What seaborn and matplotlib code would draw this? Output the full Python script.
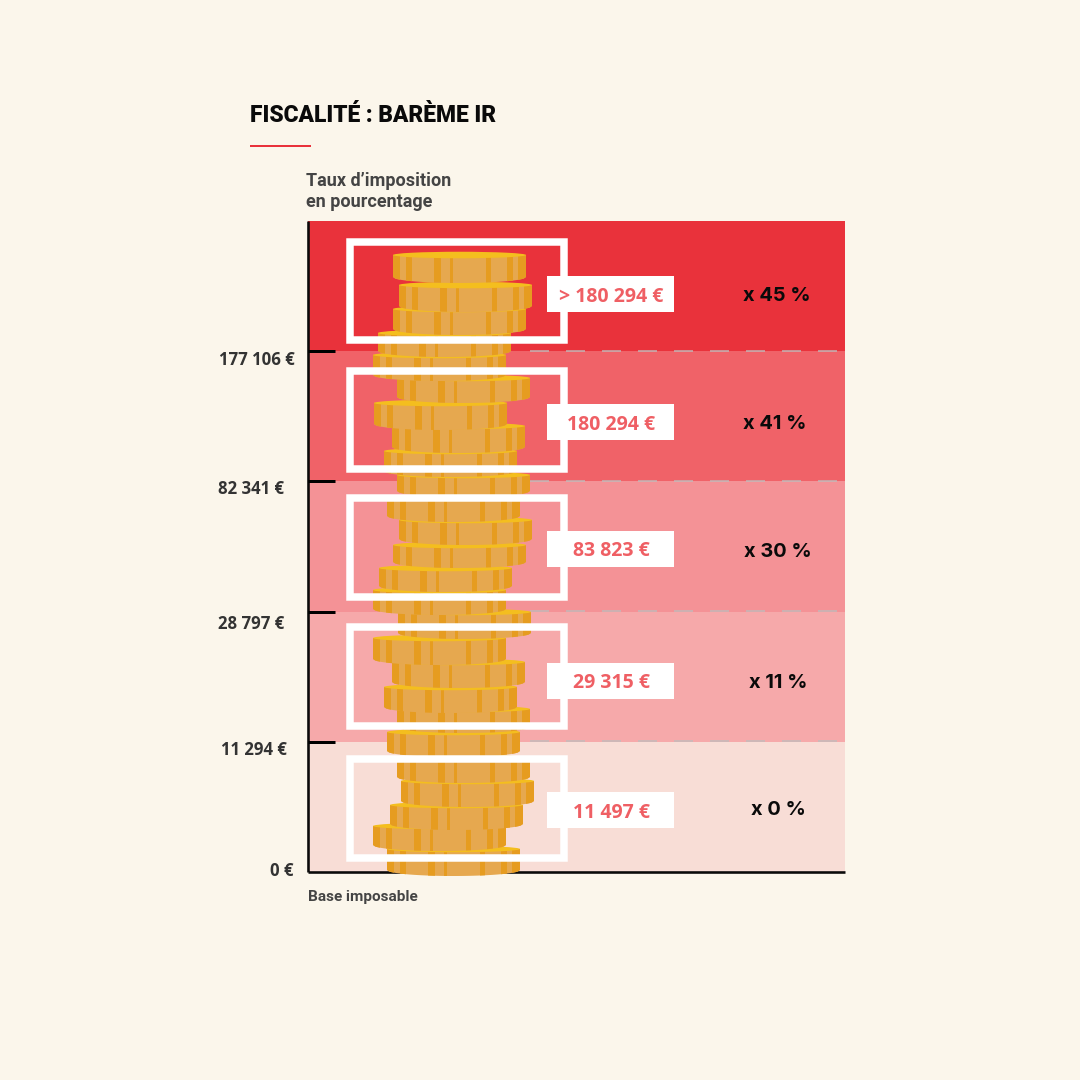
import numpy as np
import pandas as pd
import matplotlib
matplotlib.use("Agg")
import matplotlib.pyplot as plt
from matplotlib.patches import Rectangle, Ellipse, Polygon
import seaborn as sns

# ---------- data ----------
title = "FISCALITÉ : BARÈME IR"
y_title = "Taux d’imposition\nen pourcentage"
x_title = "Base imposable"
bands = ["0 %", "11 %", "30 %", "41 %", "45 %"]            # bottom to top
band_position = [0.5, 1.5, 2.5, 3.5, 4.5]
band_extent = [1, 1, 1, 1, 1]
band_colours = ["#F8DDD6", "#F6A9AA", "#F49296", "#F06268", "#E9323B"]
thresholds = ["0 €", "11 294 €", "28 797 €", "82 341 €", "177 106 €"]
ceilings = ["11 497 €", "29 315 €", "83 823 €", "180 294 €", "> 180 294 €"]
rates = ["x 0 %", "x 11 %", "x 30 %", "x 41 %", "x 45 %"]

# coin stack decoration (picture pixels, top coin first)
coin_left = [393, 399, 393, 378, 373, 397, 374, 392, 384, 397, 387, 399, 393,
             379, 373, 398, 373, 392, 384, 397, 387, 397, 401, 390, 373, 387]
coin_top = [252, 282, 306, 330, 352, 375, 400, 423, 448, 472, 495, 517, 542,
            565, 587, 609, 635, 659, 684, 706, 729, 755, 778, 802, 823, 846]
coin_bottom = [283, 312, 335, 357, 381, 403, 430, 453, 477, 497, 522, 545, 568,
               592, 615, 639, 665, 688, 713, 733, 757, 783, 807, 830, 851, 876]

BG = "#FBF6EB"
PX = 72 / 100  # points per pixel

sns.set_theme(style="white", rc={"figure.facecolor": BG, "savefig.facecolor": BG})
fig = plt.figure(figsize=(10.8, 10.8), dpi=100, facecolor=BG)

# ---------- bands ----------
ax = fig.add_axes([308 / 1080, (1080 - 872) / 1080, 537 / 1080, 651 / 1080])
df = pd.DataFrame({"extent": band_extent, "pos": band_position, "band": bands})
sns.barplot(data=df, x="extent", y="pos", hue="band", palette=dict(zip(bands, band_colours)),
            orient="h", native_scale=True, width=1, gap=0, dodge=False, legend=False,
            linewidth=0, saturation=1, ax=ax)
ax.set_xlim(0, 1)
ax.set_ylim(0, 5)
ax.set_xlabel("")
ax.set_ylabel("")
ax.set_xticks([])
ax.set_yticks([1, 2, 3, 4])
ax.set_yticklabels([])
ax.set_axisbelow(False)
ax.tick_params(axis="y", direction="in", length=27 * PX, width=3 * PX, color="#000000", left=True)
for s in ["top", "right"]:
    ax.spines[s].set_visible(False)
for s in ["left", "bottom"]:
    ax.spines[s].set_visible(True)
    ax.spines[s].set_color("#0A0A0A")
    ax.spines[s].set_linewidth(2.6 * PX)
    ax.spines[s].set_capstyle("butt")
ax.patch.set_alpha(0)

# ---------- overlay in picture pixels ----------
ov = fig.add_axes([0, 0, 1, 1], facecolor="none")
ov.set_xlim(0, 1080)
ov.set_ylim(1080, 0)
ov.axis("off")

# dashed separators
for y in [351, 481, 611, 741]:
    ov.plot([530, 845], [y, y], color="#BDBDBD", alpha=0.7, lw=2 * PX,
            dashes=(19 / 2, 17 / 2), zorder=1, solid_capstyle="butt")

# coins, bottom one first so the upper ones cover it
STRIPES = [(0, .055), (.10, .145), (.31, .36), (.43, .45), (.70, .74), (.86, .90), (.94, 1)]
W, E = 133, 6
for i in range(len(coin_left) - 1, -1, -1):
    l, t, b = coin_left[i], coin_top[i], coin_bottom[i]
    z = 2 + (len(coin_left) - i) * 0.01
    u = np.linspace(-1, 1, 60)
    xs = l + W / 2 + u * W / 2
    ys = b - E + E * np.sqrt(1 - u ** 2)
    pts = np.vstack([[l, t + 3], np.column_stack([xs, ys]), [l + W, t + 3]])
    side = Polygon(pts, closed=True, fc="#E6A84F", ec="none", zorder=z)
    ov.add_patch(side)
    for a, c in STRIPES:
        st = Rectangle((l + a * W, t + 3), (c - a) * W, b - t, fc="#E69C20", ec="none", zorder=z + 0.001)
        ov.add_patch(st)
        st.set_clip_path(side)
    ov.add_patch(Ellipse((l + W / 2, t + 3), W, 6.5, fc="#F4BE1E", ec="none", zorder=z + 0.002))

# white frames and value tags
frame_top = [755, 623, 494, 367, 238]
frame_bottom = [861, 729, 600, 472, 343]
tag_y = [810, 681, 549, 422, 294]
rate_x = [778, 778, 778, 775, 777]
rate_y = [810, 683, 552, 424, 296]
for i in range(5):
    ov.add_patch(Rectangle((350, frame_top[i] + 3.5), 213.5, frame_bottom[i] - frame_top[i] - 7,
                           fc="none", ec="white", lw=7.5 * PX, joinstyle="miter", zorder=4))
    ov.add_patch(Rectangle((547, tag_y[i] - 18), 127, 36, fc="white", ec="none", zorder=5))
    ov.text(611.5, tag_y[i] + 2.5, ceilings[i], ha="center", va="center", color="#EF5F64",
            family="Open Sans", weight="bold", fontsize=19.5 * PX, zorder=6)
    ov.text(rate_x[i], rate_y[i], rates[i], ha="center", va="center", color="#0A0A0A",
            family="Inter", weight="bold", fontsize=20 * PX, zorder=6)

# threshold labels
thr_right = [293, 287, 284, 284, 295]
thr_y = [871, 750, 624, 489, 360]
for lab, xr, y in zip(thresholds, thr_right, thr_y):
    ov.text(xr, y, lab, ha="right", va="center", color="#333333",
            family="Open Sans", weight="bold", fontsize=16.8 * PX)

# titles
ov.text(250, 116, title, ha="left", va="center", color="#0A0A0A",
        family="Roboto", weight="black", fontsize=22.7 * PX)
ov.plot([250, 311], [145.5, 145.5], color="#E9323B", lw=2 * PX, solid_capstyle="butt")
for line, y in zip(y_title.split("\n"), [180.5, 202]):
    ov.text(306.5, y, line, ha="left", va="center", color="#444444",
            family="Roboto", weight="bold", fontsize=18 * PX)
ov.text(308, 897, x_title, ha="left", va="center", color="#444444",
        family="Roboto", weight="bold", fontsize=15.2 * PX)

fig.savefig("out.png", dpi=100)
